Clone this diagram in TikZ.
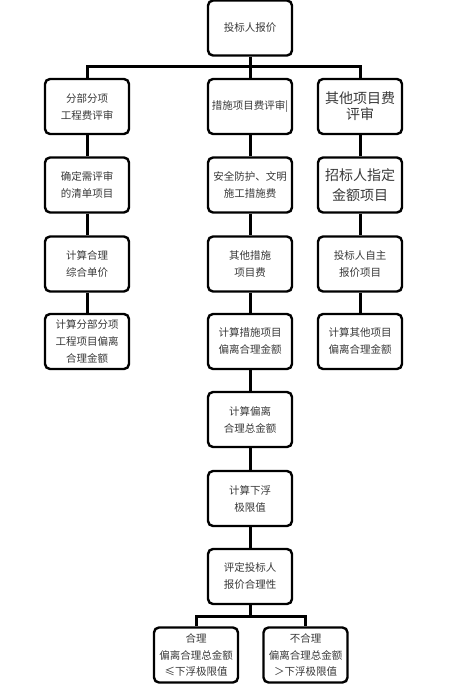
\documentclass[tikz,border=0pt]{standalone}
\usepackage{fontspec}
\setmainfont{Noto Sans CJK SC}
\begin{document}
\begin{tikzpicture}[x=1bp,y=-1bp,
  box/.style={draw=black,line width=2.4bp,rounded corners=5bp,
    minimum width=84bp,minimum height=55bp,inner sep=1bp,align=center,
    text=black!78,font=\fontsize{10.5bp}{17bp}\selectfont},
  bigbox/.style={box,font=\fontsize{14bp}{17bp}\selectfont},
  conn/.style={line width=3bp}]
\useasboundingbox (0,0) rectangle (461,685);
% column x
\node[box] (top) at (250,28) {投标人报价};
\node[box] (a1) at (87,106.5) {分部分项\\工程费评审};
\node[box] (b1) at (250,106.5) {措施项目费评审|};
\node[bigbox,font=\fontsize{14bp}{16bp}\selectfont] (c1) at (360,106.5) {其他项目费\\评审};
\node[box] (a2) at (87,185) {确定需评审\\的清单项目};
\node[box] (b2) at (250,185) {安全防护、文明\\施工措施费};
\node[bigbox,font=\fontsize{14bp}{20bp}\selectfont] (c2) at (360,185) {招标人指定\\金额项目};
\node[box] (a3) at (87,264) {计算合理\\综合单价};
\node[box] (b3) at (250,264) {其他措施\\项目费};
\node[box] (c3) at (360,264) {投标人自主\\报价项目};
\node[box] (a4) at (87,341.5) {计算分部分项\\工程项目偏离\\合理金额};
\node[box] (b4) at (250,341.5) {计算措施项目\\偏离合理金额};
\node[box] (c4) at (360,341.5) {计算其他项目\\偏离合理金额};
\node[box] (b5) at (250,419.5) {计算偏离\\合理总金额};
\node[box] (b6) at (250,498.5) {计算下浮\\极限值};
\node[box] (b7) at (250,576.5) {评定投标人\\报价合理性};
\node[box,font=\fontsize{10.5bp}{16.5bp}\selectfont] (d1) at (196,655) {合理\\偏离合理总金额\\≤下浮极限值};
\node[box,font=\fontsize{10.5bp}{16.5bp}\selectfont] (d2) at (305.5,655) {不合理\\偏离合理总金额\\＞下浮极限值};
% buses
\coordinate (bus1) at (250,67);
\coordinate (bus2) at (250,616);
\draw[conn] (top.south) -- (b1.north);
\draw[conn] (a1.north) |- (bus1) -| (c1.north);
\draw[conn] (b7.south) -- (bus2);
\draw[conn] (d1.north) |- (bus2) -| (d2.north);
% columns
\draw[conn] (a1) -- (a2);
\draw[conn] (a2) -- (a3);
\draw[conn] (a3) -- (a4);
\draw[conn] (b1) -- (b2);
\draw[conn] (b2) -- (b3);
\draw[conn] (b3) -- (b4);
\draw[conn] (b4) -- (b5);
\draw[conn] (b5) -- (b6);
\draw[conn] (b6) -- (b7);
\draw[conn] (c1) -- (c2);
\draw[conn] (c2) -- (c3);
\draw[conn] (c3) -- (c4);
\end{tikzpicture}
\end{document}
